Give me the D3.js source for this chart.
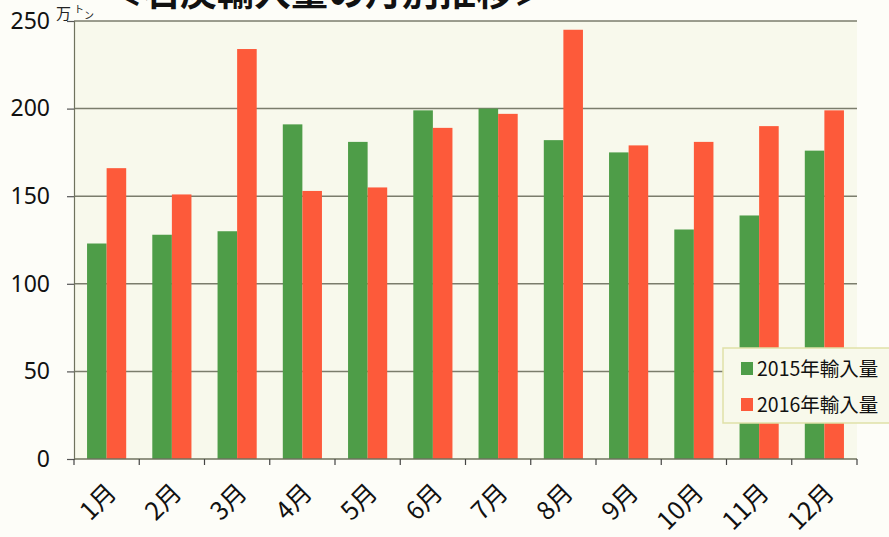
<!DOCTYPE html>
<html>
<head>
<meta charset="utf-8">
<script src="https://cdn.jsdelivr.net/npm/d3@7"></script>
<style>
  body { margin: 0; background: #fdfdf8; }
  text { font-family: "Noto Sans CJK JP", "Noto Sans", sans-serif; }
</style>
</head>
<body>
<div id="chart"></div>
<script>
// monthly coal imports, unit 万トン
const months = ["1月", "2月", "3月", "4月", "5月", "6月", "7月", "8月", "9月", "10月", "11月", "12月"];
const series = ["2015年輸入量", "2016年輸入量"];
const imports2015 = [123, 128, 130, 191, 181, 199, 200, 182, 175, 131, 139, 176];
const imports2016 = [166, 151, 234, 153, 155, 189, 197, 245, 179, 181, 190, 199];
const yTicks = [0, 50, 100, 150, 200, 250];

const colors = ["#4e9d48", "#fd5a3a"];

const W = 889, H = 537;
const margin = { top: 21, right: 32, bottom: 78, left: 74 };
const width = W - margin.left - margin.right,
  height = H - margin.top - margin.bottom;

const svg = d3.select("#chart")
  .append("svg")
  .attr("width", W)
  .attr("height", H);

// title, cut off at the top like the scan
svg.append("text")
  .attr("x", 328)
  .attr("y", 6)
  .attr("text-anchor", "middle")
  .attr("font-size", "37px")
  .attr("font-weight", "bold")
  .attr("fill", "#111")
  .text("＜石炭輸入量の月別推移＞");

const g = svg.append("g")
  .attr("transform", `translate(${margin.left}, ${margin.top})`);

const x = d3.scaleBand()
  .domain(months)
  .range([0, width])
  .paddingInner(0.4)
  .paddingOuter(0.2);

const x1 = d3.scaleBand()
  .domain(series)
  .range([0, x.bandwidth()]);

const y = d3.scaleLinear()
  .domain([0, 250])
  .range([height, 0]);

g.append("rect")
  .attr("width", width)
  .attr("height", height)
  .attr("fill", "#f8f9ec");

// gridlines
g.selectAll(".grid")
  .data(yTicks.slice(1))
  .join("line")
  .attr("x1", 0)
  .attr("x2", width)
  .attr("y1", d => y(d))
  .attr("y2", d => y(d))
  .attr("stroke", "#7b7d6c")
  .attr("stroke-width", 1.5);

const rows = months.map((m, i) => ({ month: m, values: [imports2015[i], imports2016[i]] }));

g.selectAll(".month")
  .data(rows)
  .join("g")
  .attr("transform", d => `translate(${x(d.month)}, 0)`)
  .selectAll("rect")
  .data(d => d.values.map((v, j) => ({ key: series[j], value: v, idx: j })))
  .join("rect")
  .attr("x", d => x1(d.key))
  .attr("y", d => y(d.value))
  .attr("width", x1.bandwidth())
  .attr("height", d => height - y(d.value))
  .attr("fill", d => colors[d.idx]);

// y axis
const yAxis = g.append("g")
  .call(d3.axisLeft(y).tickValues(yTicks).tickSize(7).tickPadding(17));
yAxis.select(".domain").attr("stroke", "#6f725e").attr("stroke-width", 1.2);
yAxis.selectAll(".tick line").attr("stroke", "#555").attr("stroke-width", 1.2);
yAxis.selectAll(".tick text")
  .attr("font-size", "23px")
  .attr("fill", "#111")
  .style("font-family", "'Noto Sans', sans-serif");

// unit label
const unit = svg.append("text")
  .attr("x", 56)
  .attr("y", 19)
  .attr("fill", "#222");
unit.append("tspan").attr("font-size", "15px").text("万");
unit.append("tspan").attr("font-size", "10px").attr("dx", 3).attr("dy", -6).text("ト");
unit.append("tspan").attr("font-size", "10px").attr("dy", 6).text("ン");

// x axis: ticks at band boundaries
const bounds = months.map(m => x(m) - x.step() * x.paddingInner() / 2).concat([width]);
const xAxisG = g.append("g").attr("transform", `translate(0, ${height})`);
xAxisG.append("line")
  .attr("x1", 0).attr("x2", width)
  .attr("stroke", "#6f725e").attr("stroke-width", 1.5);
xAxisG.selectAll(".xt")
  .data(bounds)
  .join("line")
  .attr("x1", d => d).attr("x2", d => d)
  .attr("y1", 0).attr("y2", 6)
  .attr("stroke", "#444").attr("stroke-width", 1.2);
xAxisG.selectAll(".xl")
  .data(months)
  .join("text")
  .attr("transform", d => `translate(${x(d) + x.bandwidth() / 2 - 2}, 22) rotate(-45)`)
  .attr("text-anchor", "end")
  .attr("dy", "0.75em")
  .attr("font-size", "25px")
  .attr("fill", "#111")
  .text(d => d);

// legend
const legend = svg.append("g").attr("transform", "translate(723, 348)");
legend.append("rect")
  .attr("width", 175)
  .attr("height", 75)
  .attr("fill", "#f8f9eb")
  .attr("stroke", "#dfe1a8")
  .attr("stroke-width", 1.5);
series.forEach((s, i) => {
  legend.append("rect")
    .attr("x", 18)
    .attr("y", 14 + i * 36)
    .attr("width", 12)
    .attr("height", 13)
    .attr("fill", colors[i]);
  legend.append("text")
    .attr("x", 34)
    .attr("y", 21 + i * 36)
    .attr("dy", "0.36em")
    .attr("font-size", "19.5px")
    .attr("fill", "#111")
    .text(s);
});
</script>
</body>
</html>
